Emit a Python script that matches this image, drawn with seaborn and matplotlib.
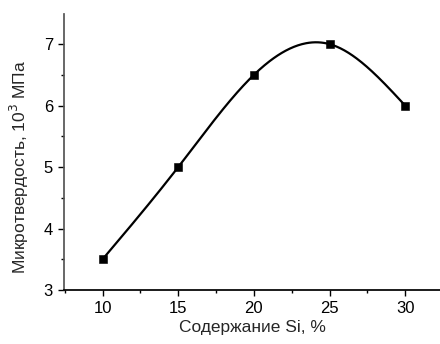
import numpy as np
import seaborn as sns
import matplotlib.pyplot as plt
from matplotlib.ticker import MultipleLocator

si = [10, 15, 20, 25, 30]
hardness = [3.5, 5.0, 6.5, 7.0, 6.0]


def natural_spline(x, y, n=300):
    x = np.asarray(x, float)
    y = np.asarray(y, float)
    k = len(x)
    h = np.diff(x)
    A = np.zeros((k, k))
    b = np.zeros(k)
    A[0, 0] = A[-1, -1] = 1
    for i in range(1, k - 1):
        A[i, i - 1] = h[i - 1]
        A[i, i] = 2 * (h[i - 1] + h[i])
        A[i, i + 1] = h[i]
        b[i] = 6 * ((y[i + 1] - y[i]) / h[i] - (y[i] - y[i - 1]) / h[i - 1])
    m = np.linalg.solve(A, b)
    xs = np.linspace(x[0], x[-1], n)
    idx = np.clip(np.searchsorted(x, xs) - 1, 0, k - 2)
    t = xs - x[idx]
    hi = h[idx]
    a = y[idx]
    c1 = (y[idx + 1] - y[idx]) / hi - hi * (2 * m[idx] + m[idx + 1]) / 6
    c2 = m[idx] / 2
    c3 = (m[idx + 1] - m[idx]) / (6 * hi)
    return xs, a + c1 * t + c2 * t ** 2 + c3 * t ** 3


sns.set_theme(style="ticks")
plt.rcParams['font.family'] = ['Liberation Sans', 'DejaVu Sans']

fig = plt.figure(figsize=(4.4, 3.44), dpi=100)
ax = fig.add_axes([64 / 440, 54 / 344, 376 / 440, 276 / 344])

xs, ys = natural_spline(si, hardness)
sns.lineplot(x=xs, y=ys, color='black', linewidth=1.6, ax=ax)
sns.scatterplot(x=si, y=hardness, marker='s', color='black', s=26,
                edgecolor='black', zorder=3, ax=ax)

ax.set_xlim(7.45, 32.3)
ax.set_ylim(3, 7.49)
ax.xaxis.set_major_locator(MultipleLocator(5))
ax.xaxis.set_minor_locator(MultipleLocator(2.5))
ax.yaxis.set_major_locator(MultipleLocator(1))
ax.yaxis.set_minor_locator(MultipleLocator(0.5))
ax.tick_params(which='major', length=4, width=1, labelsize=12, colors='black',
               pad=4)
ax.tick_params(which='minor', length=2.5, width=1, color='black')
for side in ['top', 'right']:
    ax.spines[side].set_visible(False)
ax.spines['left'].set_color('#555555')
ax.spines['bottom'].set_color('black')
ax.set_xlabel('Содержание Si, %', fontsize=12.5, labelpad=3)
ax.set_ylabel('Микротвердость, 10$^3$ МПа', fontsize=12.5)
ax.yaxis.set_label_coords(-0.088, 0.445)

fig.savefig('out.png', dpi=100)
